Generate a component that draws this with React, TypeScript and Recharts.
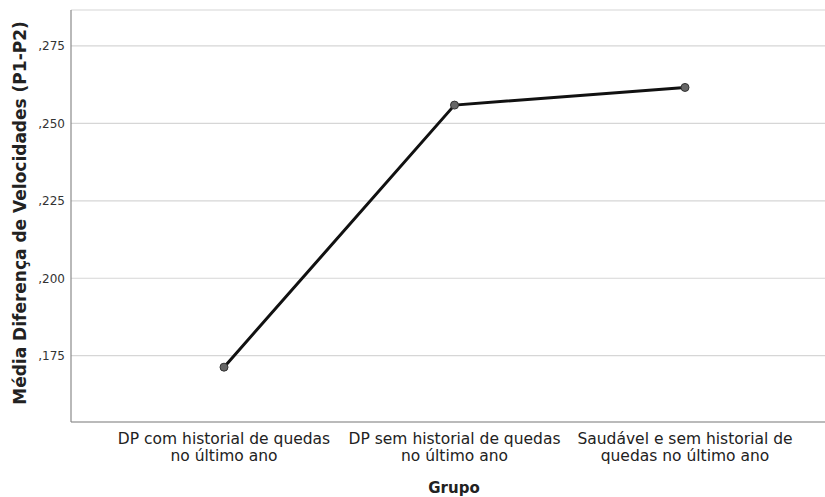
import { LineChart, Line, XAxis, YAxis, CartesianGrid } from 'recharts'

const grupos = [
  ['DP com historial de quedas', 'no último ano'],
  ['DP sem historial de quedas', 'no último ano'],
  ['Saudável e sem historial de', 'quedas no último ano'],
]
const medias = [0.1713, 0.2559, 0.2616]
const yTicks = [0.175, 0.2, 0.225, 0.25, 0.275]

const data = grupos.map((g, i) => ({ grupo: g.join(' '), media: medias[i] }))

const font = "'DejaVu Sans', 'Noto Sans', sans-serif"

function GrupoTick({ x, y, payload }: any) {
  const idx = data.findIndex(d => d.grupo === payload.value)
  const lines = grupos[idx] || [payload.value]
  return (
    <text x={x} y={y} textAnchor="middle" fontFamily={font} fontSize={15.5} fill="#222">
      {lines.map((l, i) => (
        <tspan key={i} x={x} dy={i === 0 ? 14 : 17}>{l}</tspan>
      ))}
    </text>
  )
}

function TituloY({ viewBox }: any) {
  const cy = viewBox.y + viewBox.height / 2 - 3
  return (
    <text x={20} y={cy} transform={`rotate(-90 20 ${cy})`} textAnchor="middle" dominantBaseline="central"
      fontFamily={font} fontSize={17} fontWeight="bold" fill="#222">
      Média Diferença de Velocidades (P1-P2)
    </text>
  )
}

export default function App() {
  return (
    <div style={{ position: 'absolute', left: 0, top: 0 }}>
      <LineChart width={825} height={497} data={data} margin={{ top: 10, right: 0, left: 0, bottom: 0 }}>
        <CartesianGrid vertical={false} stroke="#d6d6d6" strokeWidth={1.2} />
        <XAxis
          dataKey="grupo"
          height={75}
          padding={{ left: 153, right: 140 }}
          tickLine={false}
          axisLine={{ stroke: '#8a8a8a', strokeWidth: 1.2 }}
          tick={<GrupoTick />}
          interval={0}
          label={{ value: 'Grupo', position: 'insideBottom', offset: 4, dx: 6, fontFamily: font, fontSize: 15, fontWeight: 'bold', fill: '#222' }}
        />
        <YAxis
          width={71}
          domain={[0.1536, 0.2866]}
          ticks={yTicks}
          tickLine={false}
          tickMargin={0}
          axisLine={{ stroke: '#8a8a8a', strokeWidth: 1.2 }}
          tick={{ fontFamily: font, fontSize: 12, fill: '#333' }}
          tickFormatter={(v) => Number(v).toFixed(3).replace('0.', ',')}
          label={<TituloY />}
        />
        <Line
          type="linear"
          dataKey="media"
          stroke="#111"
          strokeWidth={3}
          dot={{ r: 4, fill: '#666', stroke: '#333', strokeWidth: 1 }}
          isAnimationActive={false}
        />
      </LineChart>
    </div>
  )
}
